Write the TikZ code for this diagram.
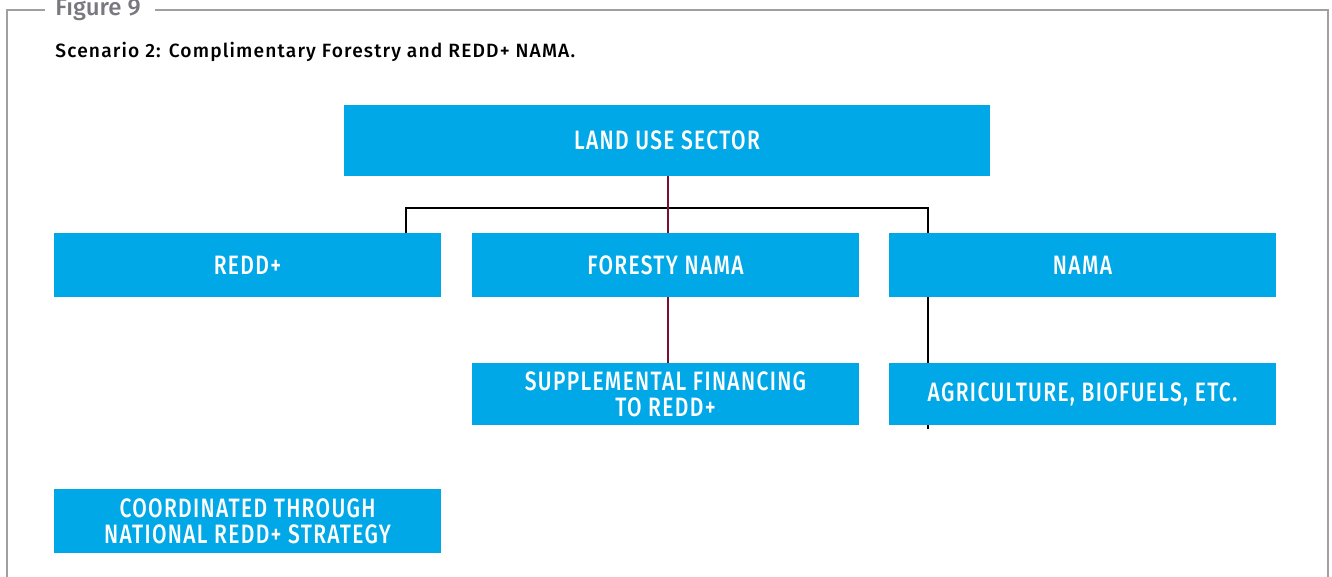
\documentclass[tikz,border=0pt]{standalone}
\usepackage{fontspec}
\setmainfont{Fira Sans}
\newfontfamily\boxfont[FakeStretch=0.79,LetterSpace=5]{Fira Sans Medium}
\newfontfamily\titlefont[LetterSpace=6]{Fira Sans Medium}
\newfontfamily\figfont{Fira Sans Medium}
\definecolor{boxblue}{RGB}{0,168,232}
\definecolor{maroon}{RGB}{122,16,48}
\definecolor{framegrey}{RGB}{160,160,160}
\definecolor{figgrey}{RGB}{120,120,128}
\begin{document}
\begin{tikzpicture}[x=0.5pt,y=-0.5pt,
  bluebox/.style={fill=boxblue,draw=none,text=white,font=\boxfont\fontsize{13.3}{13}\selectfont,align=center,inner sep=0pt},
  redline/.style={draw=maroon,line width=1pt},
  blackline/.style={draw=black,line width=1pt}]
\useasboundingbox (0,0) rectangle (1332,577);
% frame
\draw[framegrey,line width=1.2pt] (45,10) -- (7,10) -- (7,580);
\draw[framegrey,line width=1.2pt] (155,10) -- (1328,10) -- (1328,580);
\node[anchor=base west,text=figgrey,font=\figfont\fontsize{12}{14}\selectfont,inner sep=0pt] (fig) at (55,16) {Figure 9};
\node[anchor=base west,font=\titlefont\fontsize{9.6}{11}\selectfont,inner sep=0pt] (title) at (55,58) {Scenario 2: Complimentary Forestry and REDD+ NAMA.};
% boxes
\node[bluebox,minimum width=323pt,minimum height=35.5pt] (land) at (667,140.5) {LAND USE SECTOR};
\node[bluebox,minimum width=193.5pt,minimum height=32pt] (redd) at (247.5,265) {REDD+};
\node[bluebox,minimum width=193.5pt,minimum height=32pt] (fnama) at (665.5,265) {FORESTY NAMA};
\node[bluebox,minimum width=193.5pt,minimum height=32pt] (nama) at (1082.5,265) {NAMA};
\node[bluebox,minimum width=193.5pt,minimum height=31pt] (supp) at (665.5,394) {SUPPLEMENTAL FINANCING\\TO REDD+};
\node[bluebox,minimum width=193.5pt,minimum height=31pt] (agri) at (1082.5,394) {AGRICULTURE, BIOFUELS, ETC.};
\node[bluebox,minimum width=193.5pt,minimum height=32pt] (coord) at (247.5,521) {COORDINATED THROUGH\\NATIONAL REDD+ STRATEGY};
% connectors
\coordinate (jl) at (406,208);
\coordinate (jr) at (928,208);
\draw[blackline] (jl |- redd.north) -- (jl) -- (jr) -- (jr |- nama.north);
\draw[redline] (668,176) -- (668,233);
\draw[redline] (668,297) -- (668,363);
\draw[blackline] (928,297) -- (928,363);
\coordinate (tick) at (928,429);
\draw[blackline] (928,425) -- (tick);
\end{tikzpicture}
\end{document}
